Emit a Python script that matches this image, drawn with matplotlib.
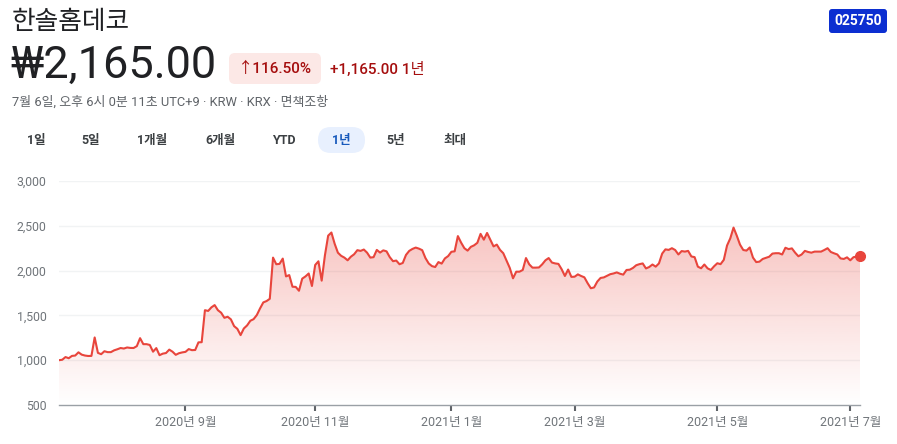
import matplotlib
matplotlib.use('Agg')
import matplotlib.pyplot as plt
import numpy as np
import pandas as pd
from matplotlib.patches import FancyBboxPatch
from matplotlib.colors import to_rgb

plt.rcParams['font.family'] = ['Roboto', 'Noto Sans CJK KR', 'DejaVu Sans']

COLORS = {
    'text_dark': '#202124',
    'text_gray': '#5f6368',
    'axis_gray': '#70757a',
    'tab_text': '#3c4043',
    'grid': '#f1f3f4',
    'baseline': '#9aa0a6',
    'line_red': '#e8453c',
    'down_text': '#a50e0e',
    'badge_pink': '#fce8e6',
    'tab_active_bg': '#e8f0fe',
    'tab_active_text': '#185abc',
    'ticker_blue': '#0c2fd1',
}

# Header texts
NAME = '한솔홈데코'
TICKER = '025750'
LAST_PRICE = '₩2,165.00'
CHANGE_PCT = '↑116.50%'
CHANGE_ABS = '+1,165.00 1년'
SUBTITLE = '7월 6일, 오후 6시 0분 11초 UTC+9 · KRW · KRX · 면책조항'
RANGE_TABS = ['1일', '5일', '1개월', '6개월', 'YTD', '1년', '5년', '최대']
ACTIVE_TAB = '1년'

# Trading calendar (KRX sessions for the 1-year window)
START, END = '2020-07-07', '2021-07-06'
KRX_HOLIDAYS = ['2020-08-17', '2020-09-30', '2020-10-01', '2020-10-02', '2020-10-09',
                '2020-12-25', '2020-12-31', '2021-01-01', '2021-02-11', '2021-02-12',
                '2021-03-01', '2021-05-05', '2021-05-19']

# Daily close (KRW), one value per session
close = [
    1000, 1005, 1035, 1022, 1048, 1052, 1088, 1062, 1052, 1047,
    1048, 1254, 1082, 1067, 1100, 1090, 1090, 1110, 1122, 1136,
    1130, 1142, 1137, 1136, 1157, 1246, 1179, 1179, 1170, 1095,
    1135, 1056, 1073, 1080, 1118, 1095, 1060, 1078, 1087, 1093,
    1124, 1112, 1114, 1199, 1201, 1558, 1550, 1590, 1615, 1558,
    1530, 1473, 1485, 1456, 1380, 1350, 1280, 1354, 1388, 1440,
    1458, 1504, 1578, 1645, 1660, 1685, 2145, 2071, 2075, 2134,
    1935, 1950, 1820, 1818, 1775, 1910, 1935, 1968, 1828, 2063,
    2104, 1888, 2170, 2390, 2425, 2300, 2200, 2165, 2145, 2115,
    2155, 2182, 2228, 2220, 2235, 2200, 2145, 2150, 2231, 2201,
    2226, 2215, 2150, 2105, 2112, 2071, 2085, 2175, 2220, 2242,
    2257, 2245, 2228, 2140, 2080, 2050, 2040, 2095, 2078, 2136,
    2162, 2210, 2215, 2385, 2312, 2250, 2223, 2265, 2282, 2310,
    2410, 2345, 2420, 2345, 2270, 2290, 2231, 2194, 2112, 2030,
    1914, 1988, 1988, 2007, 2140, 2070, 2033, 2033, 2035, 2070,
    2115, 2140, 2090, 2080, 2075, 2015, 1940, 2012, 1930, 1932,
    1958, 1940, 1925, 1860, 1803, 1812, 1878, 1918, 1924, 1942,
    1960, 1968, 1980, 1965, 1955, 2007, 2010, 2030, 2060, 2072,
    2080, 2024, 2040, 2068, 2044, 2080, 2190, 2237, 2231, 2250,
    2230, 2180, 2218, 2212, 2220, 2158, 2150, 2044, 2026, 2068,
    2025, 2007, 2048, 2082, 2072, 2120, 2280, 2360, 2480, 2390,
    2290, 2230, 2223, 2258, 2145, 2095, 2100, 2130, 2142, 2155,
    2190, 2194, 2194, 2180, 2255, 2240, 2248, 2200, 2160, 2180,
    2220, 2208, 2200, 2212, 2212, 2212, 2230, 2250, 2208, 2193,
    2180, 2136, 2130, 2148, 2115, 2150, 2156, 2165,
]

y_ticks = [500, 1000, 1500, 2000, 2500, 3000]
month_ticks = ['2020-09', '2020-11', '2021-01', '2021-03', '2021-05', '2021-07']
month_labels = ['2020년 9월', '2020년 11월', '2021년 1월', '2021년 3월', '2021년 5월', '2021년 7월']

W, H = 897, 444
fig = plt.figure(figsize=(W / 100, H / 100), dpi=100)
fig.patch.set_facecolor('white')

# Header drawn on a pixel-coordinate overlay
hdr = fig.add_axes([0, 0, 1, 1])
hdr.set_xlim(0, W)
hdr.set_ylim(H, 0)
hdr.axis('off')

hdr.text(12, 22, NAME, fontsize=18.5, color=COLORS['text_dark'], va='center', ha='left')
hdr.text(10, 66, LAST_PRICE, fontsize=32.5, color=COLORS['text_dark'], va='center', ha='left')

hdr.add_patch(FancyBboxPatch((229, 53), 92, 31, boxstyle='round,pad=0,rounding_size=6',
                             fc=COLORS['badge_pink'], ec='none'))
hdr.text(275, 69, CHANGE_PCT, fontsize=11, color=COLORS['down_text'], va='center',
         ha='center', fontweight='medium')
hdr.text(330, 69, CHANGE_ABS, fontsize=11, color=COLORS['down_text'], va='center',
         ha='left', fontweight='medium')
hdr.text(12, 102, SUBTITLE, fontsize=9.3, color=COLORS['text_gray'], va='center', ha='left')

hdr.add_patch(FancyBboxPatch((829, 9), 58, 24, boxstyle='round,pad=0,rounding_size=3',
                             fc=COLORS['ticker_blue'], ec='none'))
hdr.text(858, 21, TICKER, fontsize=10, color='white', va='center', ha='center',
         fontweight='bold')

tab_x = [36, 91, 152, 220, 284, 341, 396, 455]
for label, tx in zip(RANGE_TABS, tab_x):
    active = label == ACTIVE_TAB
    if active:
        hdr.add_patch(FancyBboxPatch((318, 127), 47, 26, boxstyle='round,pad=0,rounding_size=13',
                                     fc=COLORS['tab_active_bg'], ec='none'))
    hdr.text(tx, 140, label, fontsize=9, va='center', ha='center', fontweight='bold',
             color=COLORS['tab_active_text'] if active else COLORS['tab_text'])

# Price chart
sessions = pd.bdate_range(START, END, freq='C', holidays=KRX_HOLIDAYS)
x = np.arange(len(close))
prices = np.array(close, dtype=float)

ax = fig.add_axes([59 / W, (H - 405) / H, (860 - 59) / W, (405 - 181) / H])
ax.set_facecolor('none')

red = to_rgb(COLORS['line_red'])
top = 2500
grad = np.zeros((256, 1, 4))
grad[..., :3] = red
grad[..., 3] = np.linspace(0, 0.32, 256)[:, None]
fill = ax.fill_between(x, prices, 500, color='none', lw=0)
img = ax.imshow(grad, extent=[x[0], x[-1], 500, top], origin='lower', aspect='auto',
                zorder=1, interpolation='bilinear')
img.set_clip_path(fill.get_paths()[0], transform=ax.transData)

ax.plot(x, prices, color=COLORS['line_red'], lw=1.5, zorder=3, solid_joinstyle='round')
ax.plot(x[-1], prices[-1], 'o', color=COLORS['line_red'], markersize=7, zorder=4,
        clip_on=False)

ax.set_xlim(x[0], x[-1])
ax.set_ylim(500, 3000)
ax.set_yticks(y_ticks)
ax.set_yticklabels([f'{v:,}' for v in y_ticks])
for v in y_ticks[1:]:
    ax.axhline(v, color=COLORS['grid'], lw=1, zorder=0)

tick_pos = [sessions.searchsorted(pd.Timestamp(m + '-01')) for m in month_ticks]
ax.set_xticks(tick_pos)
ax.set_xticklabels(month_labels)

ax.tick_params(axis='y', length=0, pad=9, labelsize=8.8, labelcolor=COLORS['axis_gray'])
ax.tick_params(axis='x', length=4, width=1.5, color=COLORS['text_gray'], pad=4,
               labelsize=9, labelcolor=COLORS['axis_gray'], direction='out')

for side in ['top', 'right', 'left']:
    ax.spines[side].set_visible(False)
ax.spines['bottom'].set_color(COLORS['baseline'])
ax.spines['bottom'].set_linewidth(1)

fig.savefig('out.png', dpi=100, facecolor='white')
